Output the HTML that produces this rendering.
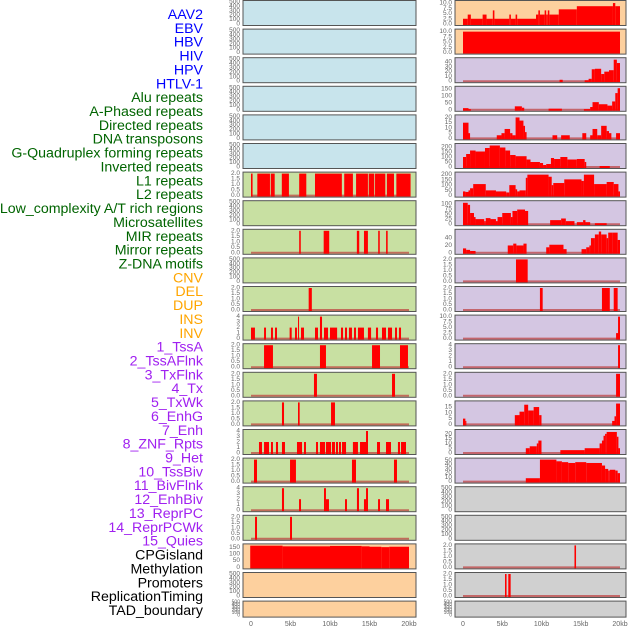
<!DOCTYPE html>
<html><head><meta charset="utf-8"><style>
html,body{margin:0;padding:0;background:#fff;width:630px;height:630px;overflow:hidden}
svg{display:block;font-family:"Liberation Sans",sans-serif}
</style></head><body>
<svg id="chart" width="630" height="630" viewBox="0 0 630 630" xmlns="http://www.w3.org/2000/svg">
<g id="labels"></g>
<g id="panels"></g>
<g id="xaxes"></g>
</svg>
<script>
const trackLabels = ["AAV2","EBV","HBV","HIV","HPV","HTLV-1","Alu repeats","A-Phased repeats","Directed repeats","DNA transposons","G-Quadruplex forming repeats","Inverted repeats","L1 repeats","L2 repeats","Low_complexity A/T rich regions","Microsatellites","MIR repeats","Mirror repeats","Z-DNA motifs","CNV","DEL","DUP","INS","INV","1_TssA","2_TssAFlnk","3_TxFlnk","4_Tx","5_TxWk","6_EnhG","7_Enh","8_ZNF_Rpts","9_Het","10_TssBiv","11_BivFlnk","12_EnhBiv","13_ReprPC","14_ReprPCWk","15_Quies","CPGisland","Methylation","Promoters","ReplicationTiming","TAD_boundary"];
const labelColors = ["#0000ff","#0000ff","#0000ff","#0000ff","#0000ff","#0000ff","#006400","#006400","#006400","#006400","#006400","#006400","#006400","#006400","#006400","#006400","#006400","#006400","#006400","#ffa500","#ffa500","#ffa500","#ffa500","#ffa500","#a020f0","#a020f0","#a020f0","#a020f0","#a020f0","#a020f0","#a020f0","#a020f0","#a020f0","#a020f0","#a020f0","#a020f0","#a020f0","#a020f0","#a020f0","#000","#000","#000","#000","#000"];
const xTicks = [0,5,10,15,20];
const xTickLabels = ["0","5kb","10kb","15kb","20kb"];
const ticks500 = [0,100,200,300,400,500];
const ticks2 = [0,0.5,1,1.5,2];
const ticks2Labels = ["0.0","0.5","1.0","1.5","2.0"];
const ticks4 = [0,1,2,3,4];
const ticks10 = [0,2.5,5,7.5,10];
const ticks10Labels = ["0.0","2.5","5.0","7.5","10.0"];
const leftL1 = [[0,0.2,2],[0.8,2.4,2],[2.5,3.0,2],[3.9,4.8,2],[6.1,7.0,2],[8.1,11.5,2],[11.8,12.9,2],[13.3,14.8,2],[14.9,15.6,2],[15.7,17.0,2],[17.2,18.1,2],[18.4,20.2,2]];
const leftMIR = [[6.1,6.3,2],[9.2,9.9,2],[13.4,13.7,2],[14.3,14.8,2],[16.1,16.3,2],[17.1,17.3,2]];
const leftRow10 = [[7.3,7.7,2]];
const leftRow11 = [[0,0.5,2],[1.65,1.9,2],[2.53,2.78,2],[3.04,3.29,2],[4.89,5.15,2],[5.57,5.82,2],[5.95,6.08,4],[6.33,6.71,2],[8.1,8.48,2],[8.73,8.99,4],[9.24,9.75,2],[10.0,10.9,2],[11.39,11.65,2],[11.9,12.15,2],[12.4,12.78,2],[13.04,13.29,2],[13.54,14.3,2],[14.8,15.2,2],[15.82,16.08,2],[16.58,17.09,2],[17.34,17.85,2],[18.23,18.48,2],[18.73,18.99,2]];
const leftRow12 = [[1.65,2.78,2],[8.73,9.49,2],[15.32,16.33,2],[18.86,19.87,2]];
const leftRow13 = [[7.97,8.35,2],[17.85,18.23,2]];
const leftRow14 = [[3.92,4.18,2],[5.95,6.16,2],[10.13,10.63,2]];
const leftRow15 = [[1.01,1.39,2],[1.65,2.28,2],[2.53,2.78,2],[3.16,3.42,2],[3.92,4.3,2],[5.82,6.46,2],[6.71,6.96,2],[8.23,8.48,2],[8.73,9.37,2],[9.49,10.13,2],[10.25,10.63,2],[10.76,11.01,2],[11.14,11.39,2],[11.52,12.03,2],[12.9,13.54,2],[13.8,14.7,2],[14.56,14.81,4],[15.95,16.33,2],[17.09,17.72,2],[18.6,18.86,2],[18.99,19.62,2]];
const leftRow16 = [[0.38,0.76,2],[4.94,5.69,2],[12.78,13.29,2],[18.1,18.48,2]];
const leftRow17 = [[3.92,4.18,4],[9.24,9.49,4],[13.41,13.67,4],[14.56,14.81,4],[6.08,6.33,2],[9.49,9.87,2],[11.9,12.15,2],[14.3,14.56,2],[16.08,16.33,2],[17.09,17.47,2]];
const leftRow18 = [[0.51,0.76,2],[4.94,5.19,2]];
const leftCPG = [[-0.1,4,163],[4,10,158],[10,14,161],[14,15,158],[15,16.5,155],[16.5,17.5,152],[17.5,20,155]];
const rightAAV2 = [[0,0.6,2.5],[0.6,1.0,4.5],[1.0,2.5,2.5],[2.5,3.0,4.5],[3.0,3.8,2.5],[3.8,4.0,6.5],[4.0,5.9,2.5],[5.9,6.1,4.5],[6.1,6.7,2.5],[6.7,6.9,4.5],[6.9,9.3,2.5],[9.3,9.6,4.5],[9.6,9.8,6.5],[9.8,10.4,4.5],[10.4,10.6,6.5],[10.6,10.8,4.5],[10.8,11.0,6.5],[11.0,12.2,4.5],[12.2,14.5,7],[14.5,19.1,8.5],[19.1,19.4,10],[19.4,20,8.5]];
const rightEBV = [[0,20,10]];
const rightHIV = [[12.3,12.7,3],[15.5,16.0,2],[16.0,16.4,5],[16.4,16.8,25],[16.8,17.6,26],[17.6,18.0,15],[18.0,18.6,20],[18.6,19.2,23],[19.2,19.6,45],[19.6,20,38]];
const rightHPV = [[0,0.7,12],[0.7,1.0,5],[6.6,7.5,25],[7.5,7.8,15],[10.9,12.6,8],[15.4,16.2,5],[16.2,16.5,20],[16.5,17.3,55],[17.3,18.4,40],[18.4,19.0,30],[19.0,19.4,60],[19.4,19.7,120],[19.7,20,155]];
const rightDirected = [[0,0.7,15],[0.7,0.9,5],[4.3,4.9,3],[4.9,5.3,5],[5.3,6.0,9],[6.0,6.3,5],[6.3,6.7,3],[6.7,7.2,20],[7.2,7.7,17],[7.7,7.9,12],[7.9,8.1,6],[11.4,12.0,3],[12.5,13.6,3],[15.2,15.7,5],[16.2,16.5,3],[16.5,17.1,9],[17.1,17.6,3],[17.6,18.3,12],[18.3,18.6,7],[18.6,18.9,5],[19.5,20,5]];
const rightG4 = [[0,0.4,100],[0.4,0.9,130],[0.9,1.6,165],[1.6,2.8,155],[2.8,3.4,190],[3.4,4.7,215],[4.7,5.4,195],[5.4,6.0,165],[6.0,6.7,120],[6.7,8.1,108],[8.1,8.6,75],[8.6,9.8,50],[9.8,10.2,40],[10.2,10.6,20],[10.6,11.2,30],[11.2,11.6,90],[11.6,12.4,80],[12.4,13.3,100],[13.3,14.5,75],[14.5,15.5,80],[15.5,15.7,50],[17.4,18.7,10]];
const rightL1 = [[0,0.3,40],[0.3,0.7,35],[0.7,0.9,50],[0.9,1.3,70],[1.3,2.9,110],[2.9,4.2,50],[4.2,5.5,40],[5.5,5.9,30],[5.9,6.7,100],[6.7,6.9,60],[6.9,7.2,40],[7.2,8.0,50],[8.0,8.2,170],[8.2,10.9,200],[10.9,11.3,180],[11.3,11.5,100],[11.5,12.9,120],[12.9,15.1,155],[15.1,15.4,140],[15.4,16.7,200],[16.7,18.3,110],[18.3,19.2,130],[19.2,19.8,110],[19.8,20,40]];
const rightLowComp = [[0,0.6,105],[0.6,0.9,95],[0.9,1.4,55],[1.4,1.6,35],[1.6,2.7,25],[2.7,2.9,15],[2.9,3.5,30],[3.5,4.2,25],[4.2,4.4,15],[4.4,5.0,35],[5.0,6.1,55],[6.1,6.3,35],[6.3,6.9,65],[6.9,7.9,72],[7.9,8.3,65],[11.1,12.5,20],[12.5,13.1,28],[13.1,14.2,15],[14.5,15.3,10],[15.3,15.6,20],[15.6,16.2,10],[16.8,18.3,5]];
const rightRow8 = [[0,0.4,12],[0.4,0.9,8],[0.9,1.6,5],[5.7,6.4,20],[6.4,6.8,25],[6.8,7.7,20],[7.7,8.1,25],[10.6,11.0,15],[11.0,12.8,22],[12.8,13.2,10],[15.1,15.7,10],[15.7,16.1,15],[16.1,16.3,20],[16.3,16.8,40],[16.8,17.3,50],[17.3,17.6,58],[17.6,18.3,50],[18.3,18.5,40],[18.5,19.0,55],[19.0,19.7,55],[19.7,20,35]];
const rightRow9 = [[6.75,8.24,2]];
const rightRow10 = [[9.8,10.15,2],[17.7,18.7,2],[19.2,19.7,2]];
const rightRow11 = [[19.5,20,2.5],[19.75,20,10]];
const rightRow12 = [[19.75,20,4]];
const rightRow13 = [[19.5,20,2]];
const rightRow14 = [[0,0.3,5],[0.3,0.4,3],[6.6,7.2,8],[7.2,7.8,11],[7.8,8.3,17],[8.3,9.0,12],[9.0,9.7,15],[9.7,10.0,8],[19.0,19.3,3],[19.3,19.5,7],[19.5,20,18]];
const rightRow15 = [[8.0,8.5,5],[8.5,9.4,7],[9.4,9.6,10],[9.6,10.0,13],[12.4,15.5,3],[15.5,17.4,5],[17.4,17.7,10],[17.7,17.9,13],[17.9,18.1,18],[18.1,18.3,20],[18.3,19.6,22],[19.6,19.8,17],[19.8,20,5]];
const rightRow16 = [[8.0,9.8,8],[9.8,11.9,52],[11.9,12.6,48],[12.6,13.4,46],[13.4,14.3,44],[14.3,15.7,46],[15.7,17.7,44],[17.7,18.1,38],[18.1,18.5,30],[18.5,18.7,26],[18.7,19.4,28],[19.4,19.7,26],[19.7,20,20]];
const rightRow19 = [[14.2,14.4,2]];
const rightRow20 = [[5.35,5.55,2],[5.77,6.07,2]];

const BLUE="#c8e4ec",GREEN="#c8e0a2",ORANGE="#fdd09e",PURPLE="#d4c6e2",GREY="#d0d0d0";
function L(data,ymax,ticks,tl,bg,base){return {data,ymax,ticks,tl,bg,base};}
const blankL = (bg)=>L([],500,ticks500,null,bg,false);
const leftPanels = [
 blankL(BLUE),blankL(BLUE),blankL(BLUE),blankL(BLUE),blankL(BLUE),blankL(BLUE),
 L(leftL1,2,ticks2,ticks2Labels,GREEN,true), blankL(GREEN),
 L(leftMIR,2,ticks2,ticks2Labels,GREEN,true), blankL(GREEN),
 L(leftRow10,2,ticks2,ticks2Labels,GREEN,true),
 L(leftRow11,4,ticks4,null,GREEN,true),
 L(leftRow12,2,ticks2,ticks2Labels,GREEN,true),
 L(leftRow13,2,ticks2,ticks2Labels,GREEN,true),
 L(leftRow14,2,ticks2,ticks2Labels,GREEN,true),
 L(leftRow15,4,ticks4,null,GREEN,true),
 L(leftRow16,2,ticks2,ticks2Labels,GREEN,true),
 L(leftRow17,4,ticks4,null,GREEN,true),
 L(leftRow18,2,ticks2,ticks2Labels,GREEN,true),
 L(leftCPG,165,[0,50,100,150],null,ORANGE,false),
 blankL(ORANGE),blankL(ORANGE)
];
const rightPanels = [
 L(rightAAV2,10.5,ticks10,ticks10Labels,ORANGE,false),
 L(rightEBV,10.5,ticks10,ticks10Labels,ORANGE,false),
 L(rightHIV,46,[0,10,20,30,40],null,PURPLE,true),
 L(rightHPV,158,[0,50,100,150],null,PURPLE,true),
 L(rightDirected,21,[0,5,10,15,20],null,PURPLE,true),
 L(rightG4,220,[0,50,100,150,200],null,PURPLE,true),
 L(rightL1,210,[0,50,100,150,200],null,PURPLE,true),
 L(rightLowComp,108,[0,25,50,75,100],null,PURPLE,true),
 L(rightRow8,60,[0,20,40],null,PURPLE,true),
 L(rightRow9,2,ticks2,ticks2Labels,PURPLE,true),
 L(rightRow10,2,ticks2,ticks2Labels,PURPLE,true),
 L(rightRow11,10,ticks10,ticks10Labels,PURPLE,true),
 L(rightRow12,4,ticks4,null,PURPLE,true),
 L(rightRow13,2,ticks2,ticks2Labels,PURPLE,true),
 L(rightRow14,19,[0,5,10,15],null,PURPLE,true),
 L(rightRow15,23,[0,5,10,15,20],null,PURPLE,true),
 L(rightRow16,52,[0,10,20,30,40,50],null,PURPLE,true),
 blankL(GREY),blankL(GREY),
 L(rightRow19,2,ticks2,ticks2Labels,GREY,true),
 L(rightRow20,2,ticks2,ticks2Labels,GREY,true),
 blankL(GREY)
];
const NS="http://www.w3.org/2000/svg";
function mk(tag,attrs,parent){const e=document.createElementNS(NS,tag);for(const k in attrs)e.setAttribute(k,attrs[k]);parent.appendChild(e);return e;}
const labelsG=document.getElementById('labels'),panelsG=document.getElementById('panels'),axesG=document.getElementById('xaxes');
trackLabels.forEach((t,i)=>{
 const e=mk('text',{x:203,y:15+i*13.86,'text-anchor':'end','dominant-baseline':'central','font-size':'14.2',fill:labelColors[i]},labelsG);
 e.textContent=t;
 
 
});
const cols=[{p:leftPanels,x0:243,x1:416,z:251,s:7.9,side:'left'},{p:rightPanels,x0:455,x1:626,z:463,s:7.85,side:'right'}];
cols.forEach(c=>{
 const xs=kb=>c.z+kb*c.s;
 c.p.forEach((pn,i)=>{
  const top=0.5+i*28.6,h=(i===21)?16:25,bot=top+h;
  const ys=v=>bot-1.5-v/pn.ymax*(h-3);
  const g=mk('g',{},panelsG);
  
  
  const bg=mk('rect',{x:c.x0,y:top,width:c.x1-c.x0,height:h,fill:pn.bg},g);
  
  
  if(pn.base){const b=mk('line',{x1:xs(0),x2:xs(20),y1:ys(0),y2:ys(0),stroke:'rgba(190,60,60,0.7)','stroke-width':2},g);
   
   }
  pn.data.forEach(d=>{
   const r=mk('rect',{x:xs(d[0]),y:ys(d[2]),width:Math.max(1,xs(d[1])-xs(d[0])),height:ys(0)-ys(d[2])+1,fill:'#ff0000'},g);
   
   
  });
  mk('rect',{x:c.x0,y:top,width:c.x1-c.x0,height:h,fill:'none',stroke:'#555','stroke-width':1},g);
  pn.ticks.forEach((t,j)=>{
   const tx=mk('text',{x:c.x0-3,y:ys(t),'text-anchor':'end','dominant-baseline':'central','font-size':(i===21?'5':'6.5'),fill:'#666'},g);
   tx.textContent=pn.tl?pn.tl[j]:String(t);
   
   
  });
 });
 xTicks.forEach((t,j)=>{
  const tx=mk('text',{x:xs(t),y:626,'text-anchor':'middle','font-size':'7',fill:'#666'},axesG);
  tx.textContent=xTickLabels[j];
  
  
 });
});
</script>
</body></html>
